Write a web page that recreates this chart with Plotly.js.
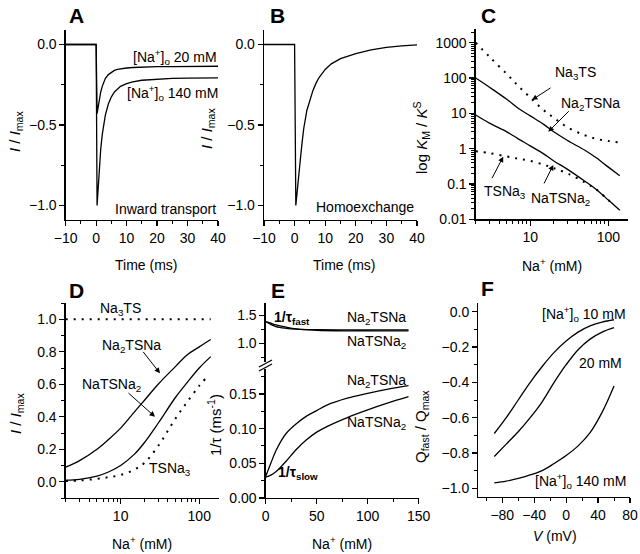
<!DOCTYPE html>
<html>
<head>
<meta charset="utf-8">
<script src="https://cdn.plot.ly/plotly-3.0.1.min.js"></script>
<style>html,body{margin:0;padding:0;background:#fff;}#chart{width:640px;height:554px;}</style>
</head>
<body>
<div id="chart"></div>
<script>
// ---------- Panel A: inward transport ----------
const tA = [-10, 0, 0.3, 0.6, 1, 1.5, 2, 2.5, 3, 4, 5, 6, 7, 8, 10, 12, 15, 20, 25, 30, 35, 40];
const iA140 = [0, 0, -1.0, -0.9, -0.77, -0.65, -0.56, -0.49, -0.44, -0.37, -0.325, -0.295, -0.275, -0.26, -0.243, -0.232, -0.222, -0.215, -0.211, -0.209, -0.208, -0.207];
const iA20 = [0, 0, -0.43, -0.39, -0.34, -0.295, -0.26, -0.232, -0.212, -0.187, -0.171, -0.161, -0.155, -0.151, -0.146, -0.143, -0.14, -0.138, -0.137, -0.136, -0.136, -0.135];
// ---------- Panel B: homoexchange ----------
const tB = [-10, 0, 0.4, 1, 1.5, 2, 2.5, 3, 4, 5, 6, 7, 8, 10, 12, 15, 20, 25, 30, 35, 40];
const iB = [0, 0, -1.0, -0.87, -0.78, -0.69, -0.6, -0.52, -0.41, -0.34, -0.285, -0.24, -0.205, -0.155, -0.12, -0.088, -0.057, -0.034, -0.018, -0.008, -0.002];
// ---------- Panel C: KM/KS vs Na ----------
const naC = [2, 3, 5, 7, 10, 15, 20, 30, 50, 70, 100, 140];
const kNa3TS = [1000, 400, 130, 60, 28, 12, 7.5, 4, 2.4, 1.9, 1.65, 1.5];
const kNa2TSNa = [100, 55, 25, 14, 8.5, 4.8, 3, 1.7, 0.9, 0.55, 0.3, 0.17];
const kNaTSNa2 = [9, 5.3, 3, 1.9, 1.2, 0.7, 0.45, 0.26, 0.12, 0.07, 0.035, 0.018];
const naC2 = [2, 3, 5, 7, 10, 15, 20, 30, 50, 70, 100, 120];
const kTSNa3 = [0.85, 0.75, 0.6, 0.52, 0.45, 0.35, 0.28, 0.2, 0.11, 0.07, 0.035, 0.025];
// ---------- Panel D: I/Imax vs Na ----------
const naD = [2, 3, 5, 7, 10, 15, 20, 30, 50, 70, 100, 140];
const dNa3TS = [1, 1, 1, 1, 1, 1, 1, 1, 1, 1, 1, 1];
const dNa2TSNa = [0.09, 0.13, 0.2, 0.26, 0.33, 0.43, 0.5, 0.6, 0.71, 0.78, 0.83, 0.875];
const dNaTSNa2 = [0.01, 0.015, 0.035, 0.06, 0.1, 0.17, 0.24, 0.36, 0.52, 0.61, 0.7, 0.77];
const naD2 = [2, 3, 5, 7, 10, 15, 20, 30, 50, 70, 100, 120];
const dTSNa3 = [0.004, 0.008, 0.018, 0.028, 0.042, 0.075, 0.115, 0.22, 0.39, 0.49, 0.59, 0.635];
// ---------- Panel E: rates ----------
const naEf = [0, 5, 10, 20, 30, 50, 80, 110, 140];
const fastNa2TSNa = [1.39, 1.34, 1.3, 1.27, 1.255, 1.245, 1.24, 1.24, 1.24];
const fastNaTSNa2 = [1.39, 1.36, 1.33, 1.29, 1.26, 1.235, 1.225, 1.225, 1.225];
const naEs = [0, 5, 10, 15, 20, 30, 40, 50, 60, 80, 100, 120, 140];
const slowNa2TSNa = [0.031, 0.05, 0.068, 0.082, 0.093, 0.107, 0.118, 0.126, 0.134, 0.144, 0.151, 0.157, 0.162];
const slowNaTSNa2 = [0.03, 0.033, 0.038, 0.045, 0.053, 0.07, 0.084, 0.095, 0.103, 0.116, 0.127, 0.137, 0.146];
// ---------- Panel F: Qfast/Qmax vs V ----------
const vF = [-90, -75, -60, -45, -30, -15, 0, 15, 30, 45, 60];
const q10 = [-0.69, -0.6, -0.5, -0.4, -0.31, -0.23, -0.165, -0.115, -0.08, -0.058, -0.045];
const q20 = [-0.82, -0.75, -0.68, -0.6, -0.51, -0.4, -0.3, -0.215, -0.155, -0.115, -0.09];
const q140 = [-0.97, -0.96, -0.945, -0.925, -0.9, -0.86, -0.815, -0.76, -0.685, -0.57, -0.42];

const W = 640, H = 554;
const FONT = 'Liberation Sans, Arial, sans-serif';
const solid = {color: 'black', width: 1.3};
const dotted = {color: 'black', width: 2, dash: '2px,6px'};
function tr(x, y, xa, ya, line, shape) {
  return {x: x, y: y, xaxis: xa, yaxis: ya, mode: 'lines', line: Object.assign({shape: shape || 'linear'}, line), hoverinfo: 'skip', showlegend: false};
}
const data = [
  tr(tA, iA20, 'x', 'y', solid), tr(tA, iA140, 'x', 'y', solid),
  tr(tB, iB, 'x2', 'y2', solid),
  tr(naC, kNa3TS, 'x3', 'y3', dotted, 'spline'), tr(naC, kNa2TSNa, 'x3', 'y3', solid, 'spline'),
  tr(naC, kNaTSNa2, 'x3', 'y3', solid, 'spline'), tr(naC2, kTSNa3, 'x3', 'y3', dotted, 'spline'),
  tr(naD, dNa3TS, 'x4', 'y4', dotted), tr(naD, dNa2TSNa, 'x4', 'y4', solid, 'spline'),
  tr(naD, dNaTSNa2, 'x4', 'y4', solid, 'spline'), tr(naD2, dTSNa3, 'x4', 'y4', dotted, 'spline'),
  tr(naEs, slowNa2TSNa, 'x5', 'y5', solid, 'spline'), tr(naEs, slowNaTSNa2, 'x5', 'y5', solid, 'spline'),
  tr(naEf, fastNa2TSNa, 'x5', 'y6', solid, 'spline'), tr(naEf, fastNaTSNa2, 'x5', 'y6', solid, 'spline'),
  tr(vF, q10, 'x6', 'y7', solid, 'spline'), tr(vF, q20, 'x6', 'y7', solid, 'spline'), tr(vF, q140, 'x6', 'y7', solid, 'spline')
];

function dx(a, b) { return [a / W, b / W]; }
function dy(top, bottom) { return [1 - bottom / H, 1 - top / H]; }
function axis(extra) {
  return Object.assign({
    showline: true, linecolor: 'black', linewidth: 1.3, ticks: 'outside', ticklen: 5, tickwidth: 1.2, tickcolor: 'black',
    showgrid: false, zeroline: false, fixedrange: true,
    tickfont: {family: FONT, size: 14, color: 'black'}
  }, extra);
}
function logMinor(lo, hi) {
  const v = [];
  for (let e = lo; e < hi; e++) for (let m = 2; m <= 9; m++) v.push(m * Math.pow(10, e));
  return v;
}
const minorStyle = {ticks: 'outside', ticklen: 3, tickwidth: 1, tickcolor: 'black', showgrid: false};

const layout = {
  width: W, height: H, margin: {l: 0, r: 0, t: 0, b: 0},
  paper_bgcolor: 'white', plot_bgcolor: 'rgba(0,0,0,0)',
  font: {family: FONT, size: 14, color: 'black'},
  showlegend: false,
  xaxis: axis({domain: dx(65.7, 218), range: [-10, 40], dtick: 10, tick0: 0, anchor: 'y', minor: Object.assign({dtick: 5}, minorStyle)}),
  yaxis: axis({domain: dy(30, 220), range: [-1.09, 0.09], dtick: 0.5, tick0: 0, tickformat: '.1f', anchor: 'x', minor: Object.assign({dtick: 0.25}, minorStyle)}),
  xaxis2: axis({domain: dx(264, 417), range: [-10, 40], dtick: 10, tick0: 0, anchor: 'y2', minor: Object.assign({dtick: 5}, minorStyle)}),
  yaxis2: axis({domain: dy(30, 220), range: [-1.09, 0.09], dtick: 0.5, tick0: 0, tickformat: '.1f', anchor: 'x2', minor: Object.assign({dtick: 0.25}, minorStyle)}),
  xaxis3: axis({domain: dx(475.7, 628.3), type: 'log', range: [Math.log10(2), Math.log10(180)], tickmode: 'array', tickvals: [10, 100], ticktext: ['10', '100'], anchor: 'y3',
    minor: Object.assign({tickmode: 'array', tickvals: logMinor(0, 3)}, minorStyle)}),
  yaxis3: axis({domain: dy(29.3, 219.3), type: 'log', range: [-2, 3.38], tickmode: 'array', tickvals: [0.01, 0.1, 1, 10, 100, 1000], ticktext: ['0.01', '0.1', '1', '10', '100', '1000'], anchor: 'x3',
    minor: Object.assign({tickmode: 'array', tickvals: logMinor(-2, 4)}, minorStyle)}),
  xaxis4: axis({domain: dx(65.7, 219.3), type: 'log', range: [Math.log10(2), Math.log10(180)], tickmode: 'array', tickvals: [10, 100], ticktext: ['10', '100'], anchor: 'y4',
    minor: Object.assign({tickmode: 'array', tickvals: logMinor(0, 3)}, minorStyle)}),
  yaxis4: axis({domain: dy(303, 498), range: [-0.1, 1.1], dtick: 0.2, tick0: 0, tickformat: '.1f', anchor: 'x4', minor: Object.assign({dtick: 0.1}, minorStyle)}),
  xaxis5: axis({domain: dx(265.7, 418.7), range: [0, 150], dtick: 50, tick0: 0, anchor: 'y5', minor: Object.assign({dtick: 25}, minorStyle)}),
  yaxis5: axis({domain: dy(369, 498), range: [0, 0.186], dtick: 0.05, tick0: 0, tickformat: '.2f', anchor: 'x5', minor: Object.assign({dtick: 0.025}, minorStyle)}),
  yaxis6: axis({domain: dy(303, 362), range: [0.67, 1.72], dtick: 0.5, tick0: 0, tickformat: '.1f', anchor: 'x5', minor: Object.assign({dtick: 0.25}, minorStyle)}),
  xaxis6: axis({domain: dx(478.3, 630), range: [-110, 80], dtick: 40, tick0: 0, anchor: 'y7', minor: Object.assign({dtick: 20}, minorStyle)}),
  yaxis7: axis({domain: dy(303, 497), range: [-1.05, 0.05], dtick: 0.2, tick0: 0, tickformat: '.1f', anchor: 'x6', minor: Object.assign({dtick: 0.1}, minorStyle)}),
  shapes: [
    {type: 'line', xref: 'paper', yref: 'paper', x0: 259 / W, y0: 1 - 367 / H, x1: 272 / W, y1: 1 - 360 / H, line: {color: 'black', width: 1.2}},
    {type: 'line', xref: 'paper', yref: 'paper', x0: 259 / W, y0: 1 - 371 / H, x1: 272 / W, y1: 1 - 364 / H, line: {color: 'black', width: 1.2}}
  ],
  annotations: []
};

const ann = layout.annotations;
function txt(text, px, py, opts) {
  ann.push(Object.assign({text: text, x: px / W, y: 1 - py / H, xref: 'paper', yref: 'paper', showarrow: false,
    xanchor: 'center', yanchor: 'middle', font: {family: FONT, size: 14, color: 'black'}}, opts || {}));
}
function arrow(xr, yr, x, y, ax, ay) {
  ann.push({text: '', xref: xr, yref: yr, x: x, y: y, ax: ax, ay: ay, showarrow: true, arrowhead: 2, arrowsize: 1.1, arrowwidth: 1, arrowcolor: 'black', standoff: 0});
}
const big = {font: {family: FONT, size: 21, color: 'black', weight: 'bold'}};
// panel letters
txt('<b>A</b>', 76, 15, big); txt('<b>B</b>', 277, 15, big); txt('<b>C</b>', 488, 15, big);
txt('<b>D</b>', 76, 290, big); txt('<b>E</b>', 278, 290, big); txt('<b>F</b>', 487, 288, big);
// axis titles
const rot = {textangle: -90, font: {family: FONT, size: 15, color: 'black'}};
txt('<i>I</i> / <i>I</i><sub>max</sub>', 15, 132, rot);
txt('<i>I</i> / <i>I</i><sub>max</sub>', 207, 129, rot);
txt('log <i>K</i><sub>M</sub> / <i>K</i><sup>S</sup>', 421, 138, rot);
txt('<i>I</i> / <i>I</i><sub>max</sub>', 16, 414, rot);
txt('1/τ (ms<sup>-1</sup>)', 214, 425, rot);
txt('Q<sub>fast</sub> / Q<sub>max</sub>', 421, 427, rot);
txt('Time (ms)', 146, 265); txt('Time (ms)', 344, 265); txt('Na<sup>+</sup> (mM)', 552, 265);
txt('Na<sup>+</sup> (mM)', 142, 543); txt('Na<sup>+</sup> (mM)', 342, 543); txt('<i>V</i> (mV)', 555, 536);
// panel A / B texts
const R = {xanchor: 'right'};
txt('[Na<sup>+</sup>]<sub>o</sub> 20 mM', 219, 57, R);
txt('[Na<sup>+</sup>]<sub>o</sub> 140 mM', 220, 93, R);
txt('Inward transport', 218, 209, R);
txt('Homoexchange', 416, 207, R);
// panel C
txt('Na<sub>3</sub>TS', 575, 73); txt('Na<sub>2</sub>TSNa', 590, 104);
txt('TSNa<sub>3</sub>', 505, 192); txt('NaTSNa<sub>2</sub>', 560, 199);
arrow('x3', 'y3', 1.022, 1.38, 20, -13);
arrow('x3', 'y3', 1.23, 0.48, 22, -22);
arrow('x3', 'y3', 0.654, -0.227, -12, 23);
arrow('x3', 'y3', 1.295, -0.46, -10, 20);
// panel D
txt('Na<sub>3</sub>TS', 120, 309); txt('Na<sub>2</sub>TSNa', 131, 346);
txt('NaTSNa<sub>2</sub>', 111, 385); txt('TSNa<sub>3</sub>', 170, 469);
arrow('x4', 'y4', 1.501, 0.667, -18, -23);
arrow('x4', 'y4', 1.437, 0.40, -28, -25);
// panel E
txt('<b>1/τ<sub>fast</sub></b>', 292, 318);
txt('Na<sub>2</sub>TSNa', 408, 318, R); txt('NaTSNa<sub>2</sub>', 408, 342, R);
txt('Na<sub>2</sub>TSNa', 408, 381, R); txt('NaTSNa<sub>2</sub>', 408, 423, R);
txt('<b>1/τ<sub>slow</sub></b>', 298, 473);
// panel F
txt('[Na<sup>+</sup>]<sub>o</sub> 10 mM', 628, 314, R);
txt('20 mM', 600, 363);
txt('[Na<sup>+</sup>]<sub>o</sub> 140 mM', 628, 481, R);

Plotly.newPlot('chart', data, layout, {staticPlot: true, displayModeBar: false});
</script>
</body>
</html>
